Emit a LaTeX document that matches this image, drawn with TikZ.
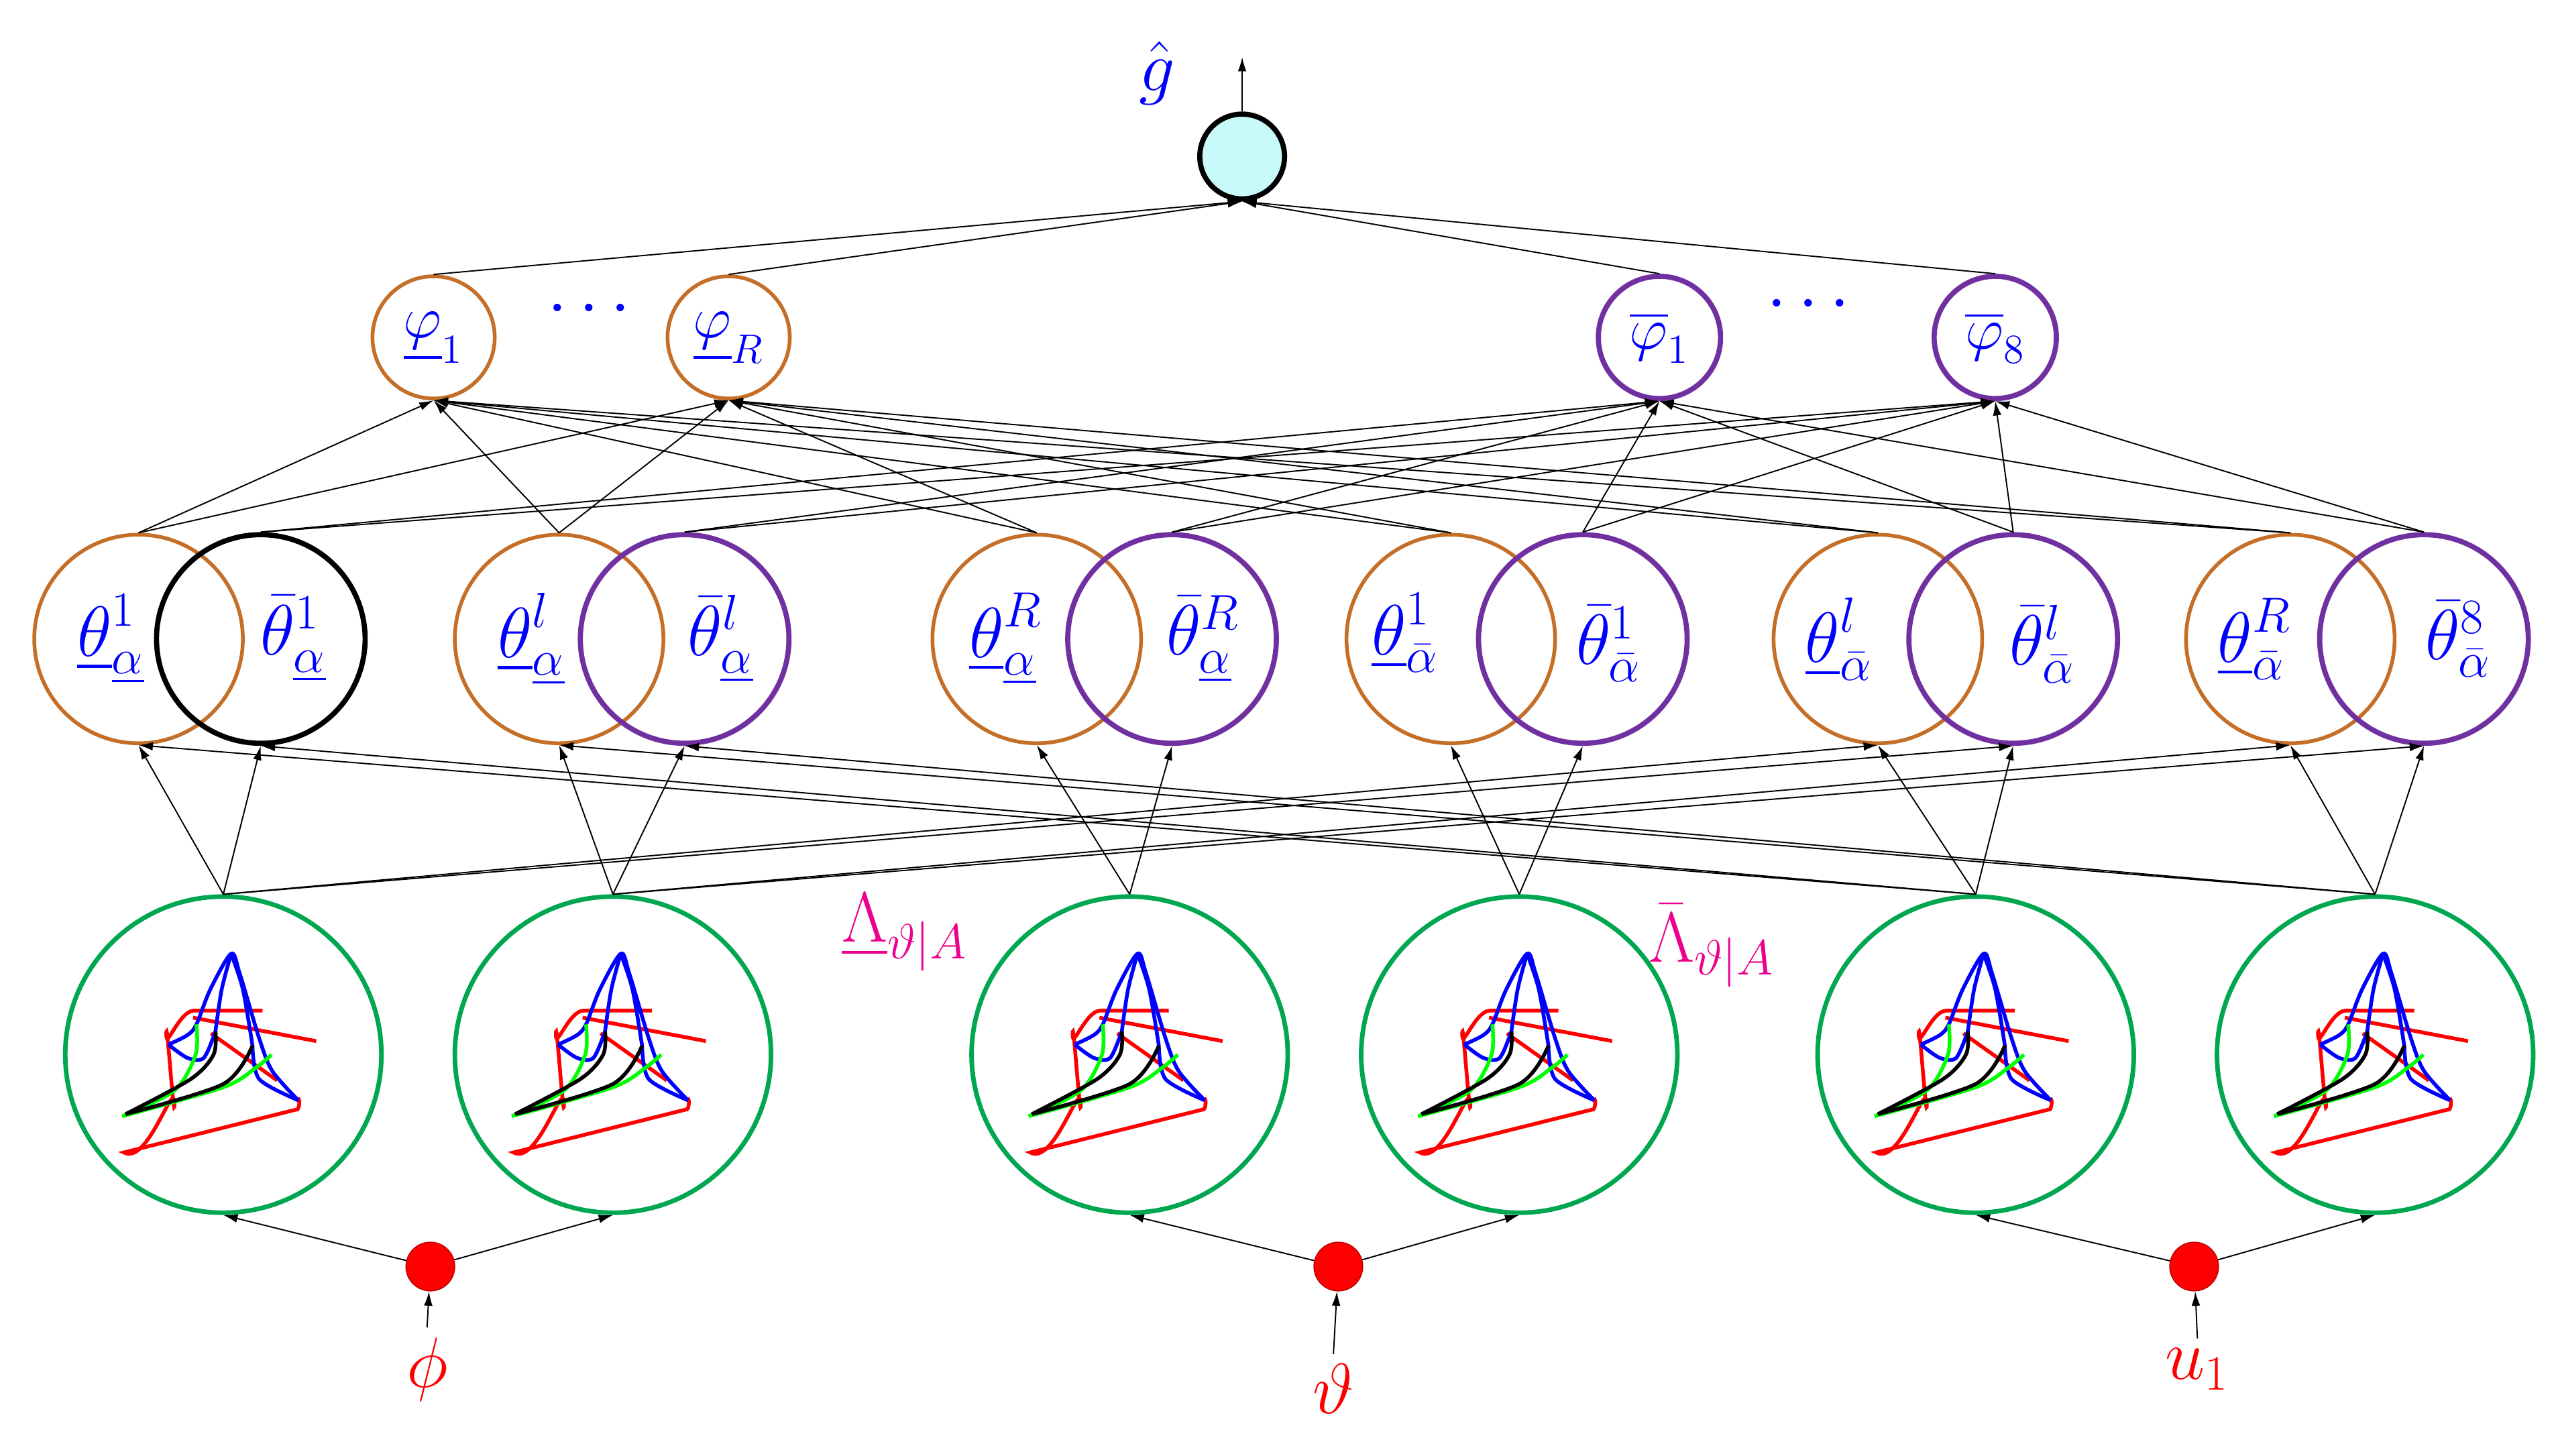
\documentclass[tikz,border=0pt]{standalone}
\usepackage{amsmath}
\usetikzlibrary{arrows.meta}

\definecolor{rulebrown}{RGB}{196,110,40}
\definecolor{rulepurple}{RGB}{112,48,160}
\definecolor{mfgreen}{RGB}{0,166,80}
\definecolor{outcyan}{RGB}{200,250,250}

\tikzset{
  lo/.style={circle, draw=rulebrown, line width=1.3pt, minimum size=2.56cm, inner sep=0pt},
  up/.style={circle, draw=rulepurple, line width=1.8pt, minimum size=2.56cm, inner sep=0pt},
  lbl/.style={text=blue, inner sep=0pt, font=\fontsize{26}{30}\selectfont},
  ph/.style={circle, inner sep=0pt, minimum size=1.5cm, text=blue, font=\fontsize{22}{26}\selectfont},
  mf/.style={circle, draw=mfgreen, line width=1.6pt, minimum size=3.88cm, inner sep=0pt},
  inp/.style={circle, draw=red!70!black, line width=0.3pt, fill=red, minimum size=0.6cm, inner sep=0pt},
  cn/.style={-{Latex[length=5pt,width=3pt]}, line width=0.45pt},
  mfs/.pic={
    \begin{scope}[yscale=-1, line width=1.3pt]
    \draw[red] (-18.6,22.7) -- (57,8.3);
    \draw[red] (-7.6,13) -- (33,-15.8);
    \draw[red] (24,27) -- (-18,27) to[out=180,in=90] (-35,12) to[out=-90,in=90] (-30,-30) to[out=-90,in=30] (-61,-60) -- (44.7,-33.7) to[out=30,in=-60] (46,-28);
    \draw[blue] plot[smooth] coordinates {(-33.7,6.2) (-22,12) (-16.5,18.6) (-8,40) (4.8,61.9) (10,50) (22,10) (30,-10) (46,-28)};
    \draw[blue] plot[smooth] coordinates {(-4.8,14.4) (-1,40) (4.8,61.9)};
    \draw[blue] plot[smooth] coordinates {(4.8,61.9) (12,40) (17.9,5.5)};
    \draw[blue] plot[smooth] coordinates {(-33.7,6.2) (-22,-2) (-12,-2) (-4.8,14.4)};
    \draw[blue] plot[smooth] coordinates {(17.9,5.5) (22,-15) (46,-28)};
    \draw[green] plot[smooth] coordinates {(-62,-37.8) (-30,-22) (-17,0) (-16.5,18.6)};
    \draw[green] plot[smooth] coordinates {(-62,-37.8) (0,-20) (20,-8) (29.6,0)};
    \draw[black] plot[smooth] coordinates {(-60,-36.5) (-20,-15) (-6,0) (-4.8,14.4)};
    \draw[black] plot[smooth] coordinates {(-60,-36.5) (0,-18) (17.9,5.5)};
    \end{scope}
  }
}

\begin{document}
\begin{tikzpicture}[x=0.02cm, y=-0.02cm]
\useasboundingbox (0,0) rectangle (1568,893);

% output
\node[circle, draw, line width=1.8pt, fill=outcyan, minimum size=1.04cm] (G) at (762,96) {};
\coordinate (Gtop) at (762,35);
\draw[cn] (G.north) -- (Gtop);
\node[text=blue, font=\fontsize{24}{28}\selectfont] (Glbl) at (710,45) {$\hat{g}$};

% rule strengths
\node[ph, draw=rulebrown, line width=1.3pt] (P1) at (266,207) {$\underline{\varphi}_1$};
\node[ph, draw=rulebrown, line width=1.3pt] (PR) at (447,207) {$\underline{\varphi}_R$};
\node[ph, draw=rulepurple, line width=1.8pt] (Q1) at (1018,207) {$\overline{\varphi}_1$};
\node[ph, draw=rulepurple, line width=1.8pt] (Q8) at (1224,207) {$\overline{\varphi}_8$};
\node[text=blue, font=\fontsize{24}{28}\selectfont] (D1) at (365,190) {$\cdots$};
\node[text=blue, font=\fontsize{24}{28}\selectfont] (D2) at (1113,187) {$\cdots$};

% firing intervals
\foreach \n/\x in {1/85, 2/343, 3/636, 4/890, 5/1152, 6/1405}
  \node[lo] (L\n) at (\x,392) {};
\node[up, draw=black] (U1) at (160,392) {};
\foreach \n/\x in {2/420, 3/719, 4/971, 5/1235, 6/1487}
  \node[up] (U\n) at (\x,392) {};

\node[lbl] (tL1) at (68,392) {$\underline{\theta}^{1}_{\underline{\alpha}}$};
\node[lbl] (tL2) at (326,392) {$\underline{\theta}^{l}_{\underline{\alpha}}$};
\node[lbl] (tL3) at (617,392) {$\underline{\theta}^{R}_{\underline{\alpha}}$};
\node[lbl] (tL4) at (862,388) {$\underline{\theta}^{1}_{\bar{\alpha}}$};
\node[lbl] (tL5) at (1128,392) {$\underline{\theta}^{l}_{\bar{\alpha}}$};
\node[lbl] (tL6) at (1383,392) {$\underline{\theta}^{R}_{\bar{\alpha}}$};
\node[lbl] (tU1) at (180,392) {$\bar{\theta}^{1}_{\underline{\alpha}}$};
\node[lbl] (tU2) at (442,392) {$\bar{\theta}^{l}_{\underline{\alpha}}$};
\node[lbl] (tU3) at (738,392) {$\bar{\theta}^{R}_{\underline{\alpha}}$};
\node[lbl] (tU4) at (987,395) {$\bar{\theta}^{1}_{\bar{\alpha}}$};
\node[lbl] (tU5) at (1253,395) {$\bar{\theta}^{l}_{\bar{\alpha}}$};
\node[lbl] (tU6) at (1508,392) {$\bar{\theta}^{8}_{\bar{\alpha}}$};

% membership functions
\foreach \n/\x in {1/137, 2/376, 3/693, 4/932, 5/1212, 6/1457} {
  \node[mf] (M\n) at (\x,647) {};
  \pic at (\x,647) {mfs};
}
\node[text=magenta, font=\fontsize{24}{28}\selectfont] (La) at (555,572) {$\underline{\Lambda}_{\vartheta|A}$};
\node[text=magenta, font=\fontsize{24}{28}\selectfont] (Lb) at (1050,580) {$\bar{\Lambda}_{\vartheta|A}$};

% inputs
\node[inp] (I1) at (264,777) {};
\node[inp] (I2) at (821,777) {};
\node[inp] (I3) at (1346,777) {};
\node[text=red, font=\fontsize{24}{28}\selectfont] (X1) at (262,840) {$\phi$};
\node[text=red, font=\fontsize{24}{28}\selectfont] (X2) at (818,852) {$\vartheta$};
\node[text=red, font=\fontsize{24}{28}\selectfont] (X3) at (1348,840) {$u_1$};
\draw[cn] (X1.north) -- (I1);
\draw[cn] (X2.north) -- (I2);
\draw[cn] (X3.north) -- (I3);

% input to membership functions
\draw[cn] (I1) -- (M1.south);
\draw[cn] (I1) -- (M2.south);
\draw[cn] (I2) -- (M3.south);
\draw[cn] (I2) -- (M4.south);
\draw[cn] (I3) -- (M5.south);
\draw[cn] (I3) -- (M6.south);

% membership functions to firing intervals
\foreach \n in {1,...,6} {
  \draw[cn] (M\n.north) -- (L\n.south);
  \draw[cn] (M\n.north) -- (U\n.south);
}
\foreach \a/\b in {1/5, 2/6, 5/1, 6/2} {
  \draw[cn] (M\a.north) -- (L\b.south);
  \draw[cn] (M\a.north) -- (U\b.south);
}

% firing intervals to rule strengths
\foreach \n in {1,...,6} {
  \draw[cn] (L\n.north) -- (P1.south);
  \draw[cn] (L\n.north) -- (PR.south);
  \draw[cn] (U\n.north) -- (Q1.south);
  \draw[cn] (U\n.north) -- (Q8.south);
}

% rule strengths to output
\foreach \p in {P1,PR,Q1,Q8}
  \draw[cn] (\p.north) -- (G.south);

\end{tikzpicture}
\end{document}
